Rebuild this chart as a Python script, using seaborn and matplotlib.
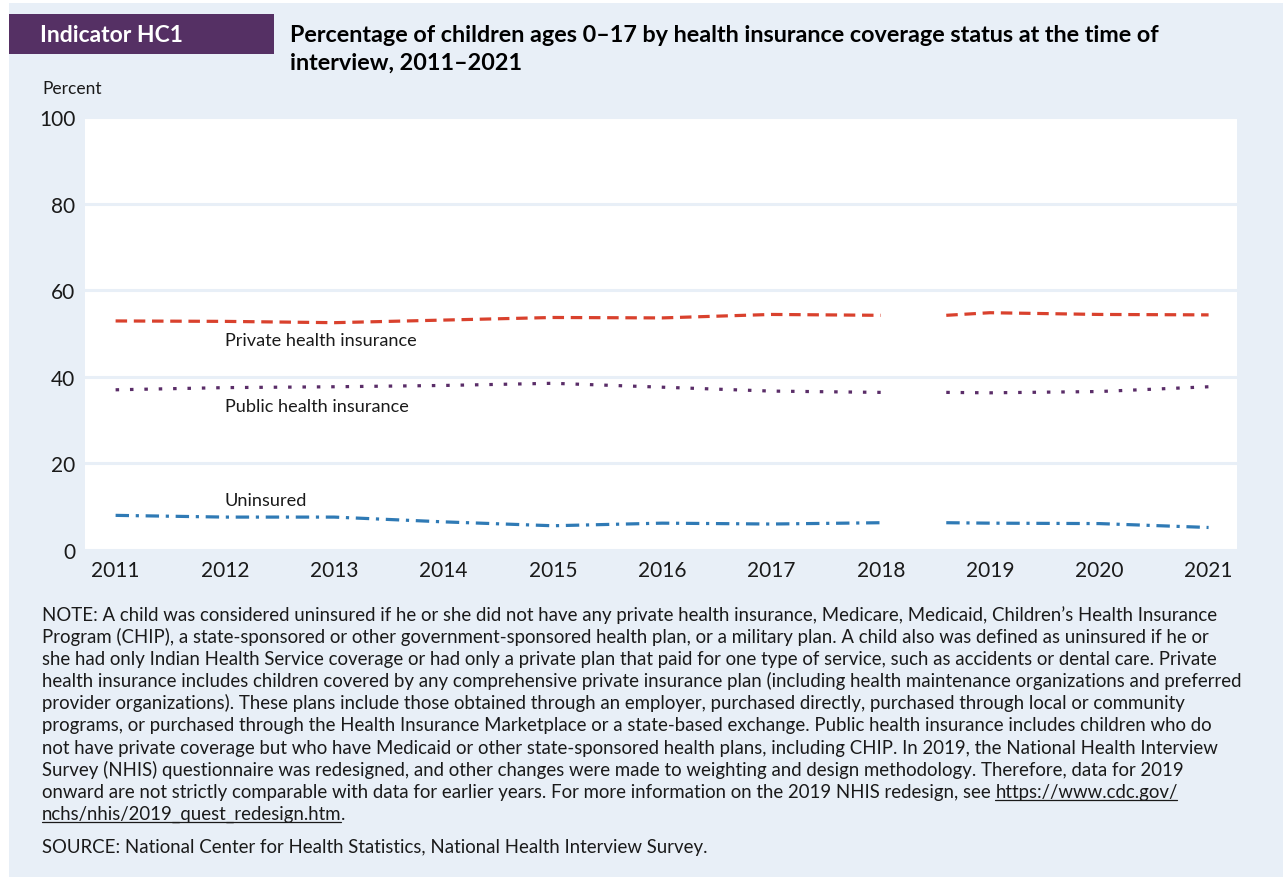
import numpy as np
import pandas as pd
import matplotlib
matplotlib.use('Agg')
import matplotlib.pyplot as plt
import seaborn as sns
from matplotlib.patches import Rectangle
from matplotlib.lines import Line2D

# ---------------------------------------------------------------
# data (percent)
# ---------------------------------------------------------------
years_a = [2011, 2012, 2013, 2014, 2015, 2016, 2017, 2018]
years_b = [2018.6, 2019, 2020, 2021]   # redesigned survey, drawn after a gap

private_a = [52.9, 52.8, 52.5, 53.1, 53.7, 53.6, 54.4, 54.2]
private_b = [54.2, 54.8, 54.4, 54.3]
public_a = [37.0, 37.5, 37.7, 38.0, 38.5, 37.6, 36.7, 36.4]
public_b = [36.4, 36.3, 36.6, 37.7]
uninsured_a = [8.0, 7.6, 7.6, 6.5, 5.6, 6.2, 6.0, 6.3]
uninsured_b = [6.3, 6.2, 6.1, 5.2]

series_names = ['Private health insurance', 'Public health insurance', 'Uninsured']
label_years = [2012, 2012, 2012]
label_values = [48.5, 33.3, 11.6]

x_ticks = list(range(2011, 2022))
y_ticks = [0, 20, 40, 60, 80, 100]

title_1 = 'Percentage of children ages 0\u201317 by health insurance coverage status at the time of'
title_2 = 'interview, 2011\u20132021'

note_lines = [
    'NOTE: A child was considered uninsured if he or she did not have any private health insurance, Medicare, Medicaid, Children\u2019s Health Insurance',
    'Program (CHIP), a state-sponsored or other government-sponsored health plan, or a military plan. A child also was defined as uninsured if he or',
    'she had only Indian Health Service coverage or had only a private plan that paid for one type of service, such as accidents or dental care. Private',
    'health insurance includes children covered by any comprehensive private insurance plan (including health maintenance organizations and preferred',
    'provider organizations). These plans include those obtained through an employer, purchased directly, purchased through local or community',
    'programs, or purchased through the Health Insurance Marketplace or a state-based exchange. Public health insurance includes children who do',
    'not have private coverage but who have Medicaid or other state-sponsored health plans, including CHIP. In 2019, the National Health Interview',
    'Survey (NHIS) questionnaire was redesigned, and other changes were made to weighting and design methodology. Therefore, data for 2019',
    'onward are not strictly comparable with data for earlier years. For more information on the 2019 NHIS redesign, see ',
]
url_1 = 'https://www.cdc.gov/'
url_2 = 'nchs/nhis/2019_quest_redesign.htm'
source_line = 'SOURCE: National Center for Health Statistics, National Health Interview Survey.'

# long table for seaborn
rows = []
for name, ya, yb in zip(series_names, [private_a, public_a, uninsured_a], [private_b, public_b, uninsured_b]):
    for x, v in zip(years_a, ya):
        rows.append((name, 'a', x, v))
    for x, v in zip(years_b, yb):
        rows.append((name, 'b', x, v))
df = pd.DataFrame(rows, columns=['series', 'segment', 'year', 'value'])

# ---------------------------------------------------------------
# styling
# ---------------------------------------------------------------
BG = '#e8eff7'
PURPLE_BOX = '#553064'
TXT = '#1a1a1a'
colors = {'Private health insurance': '#d9412d',
          'Public health insurance': '#5a2d68',
          'Uninsured': '#2f7ab5'}
dashes = {'Private health insurance': (3.6, 2.1),
          'Public health insurance': (1.1, 3.4),
          'Uninsured': (4.2, 2.1, 1.0, 2.1)}

sns.set_style('white')
plt.rcParams['font.family'] = ['Lato', 'DejaVu Sans']

fig = plt.figure(figsize=(12.83, 8.78), dpi=100)
fig.patch.set_facecolor('white')
W, H = 1283, 878

# light blue panel + purple indicator box (behind the axes)
fig.patches.append(Rectangle((9 / W, 0), 1, 874 / H, transform=fig.transFigure,
                             facecolor=BG, edgecolor='none', zorder=-3))
fig.patches.append(Rectangle((9 / W, 1 - 55 / H), 265 / W, 40 / H, transform=fig.transFigure,
                             facecolor=PURPLE_BOX, edgecolor='none', zorder=-2))

ax = fig.add_axes([85 / W, 1 - 551 / H, (1237 - 85) / W, (551 - 118) / H])
ax.set_facecolor('white')

sns.lineplot(data=df, x='year', y='value', hue='series', style='series',
             units='segment', estimator=None, palette=colors, dashes=dashes,
             linewidth=2.3, legend=False, ax=ax, zorder=3)

for line in ax.lines:
    line.set_dash_capstyle('butt')

ax.set_xlim(2010.72, 2021.26)
ax.set_ylim(0, 100)
ax.set_xticks(x_ticks)
ax.set_xticklabels([str(x) for x in x_ticks], fontsize=15)
ax.set_yticks(y_ticks)
ax.set_yticklabels([str(y) for y in y_ticks], fontsize=15)
ax.tick_params(axis='x', direction='in', length=10.5, width=1.6, color=BG, pad=7, labelcolor=TXT)
ax.tick_params(axis='y', length=0, pad=7, labelcolor=TXT)

ax.yaxis.grid(True, color=BG, linewidth=2.2)
ax.xaxis.grid(False)
ax.set_axisbelow(True)
for s in ax.spines.values():
    s.set_visible(False)
ax.set_xlabel('')
ax.set_ylabel('')

for name, lx, ly in zip(series_names, label_years, label_values):
    ax.text(lx, ly, name, fontsize=13.1, color=TXT, ha='left', va='center')

# header texts
fig.text(40 / W, 1 - 35 / H, 'Indicator HC1', color='white', fontsize=16.5,
         fontweight='bold', ha='left', va='center')
fig.text(290 / W, 1 - 35 / H, title_1, color='black', fontsize=16.8,
         fontweight='bold', ha='left', va='center')
fig.text(290 / W, 1 - 63 / H, title_2, color='black', fontsize=16.8,
         fontweight='bold', ha='left', va='center')
fig.text(42 / W, 1 - 89 / H, 'Percent', color=TXT, fontsize=12.5,
         ha='left', va='center')

# footnote, line by line
FS = 13.4
note_x = 42 / W
base0 = 621
step = 22.1
note_texts = []
for i, line in enumerate(note_lines):
    t = fig.text(note_x, 1 - (base0 + step * i) / H, line, fontsize=FS,
                 color=TXT, ha='left', va='baseline')
    note_texts.append(t)
fig.text(note_x, 1 - 853 / H, source_line, fontsize=FS, color=TXT,
         ha='left', va='baseline')

# underlined link pieces
fig.canvas.draw()
renderer = fig.canvas.get_renderer()
prefix_box = note_texts[8].get_window_extent(renderer)
t_u1 = fig.text(prefix_box.x1 / W, 1 - (base0 + step * 8) / H, url_1, fontsize=FS,
                color=TXT, ha='left', va='baseline')
t_u2 = fig.text(note_x, 1 - (base0 + step * 9) / H, url_2, fontsize=FS,
                color=TXT, ha='left', va='baseline')
fig.canvas.draw()
for t, row in [(t_u1, 8), (t_u2, 9)]:
    bb = t.get_window_extent(renderer)
    yline = 1 - (base0 + step * row + 3.5) / H
    fig.add_artist(Line2D([bb.x0 / W, (bb.x1 - 1) / W], [yline, yline], color=TXT,
                          linewidth=0.9, transform=fig.transFigure))
bb2 = t_u2.get_window_extent(renderer)
fig.text((bb2.x1 - 1) / W, 1 - (base0 + step * 9) / H, '.', fontsize=FS,
         color=TXT, ha='left', va='baseline')

fig.savefig('out.png', dpi=100, facecolor=fig.get_facecolor())
